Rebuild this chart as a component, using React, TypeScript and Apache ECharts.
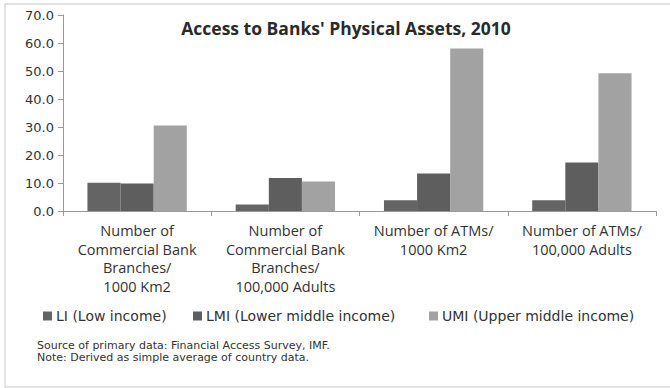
import React, { useEffect, useRef } from "react";
import * as echarts from "echarts";

const categories = [
  "Number of\nCommercial Bank\nBranches/\n1000 Km2",
  "Number of\nCommercial Bank\nBranches/\n100,000 Adults",
  "Number of ATMs/\n1000 Km2",
  "Number of ATMs/\n100,000 Adults",
];
const seriesNames = ["LI (Low income)", "LMI (Lower middle income)", "UMI (Upper middle income)"];
const liValues = [10.1, 2.3, 3.8, 3.8];
const lmiValues = [9.8, 11.8, 13.4, 17.3];
const umiValues = [30.5, 10.5, 58.0, 49.2];
const colors = ["#646464", "#5e5e5e", "#a2a2a2"];
const footnotes = [
  "Source of primary data: Financial Access Survey, IMF.",
  "Note: Derived as simple average of country data.",
];
const legendLefts = [43, 193, 429];

export default function App() {
  const ref = useRef<HTMLDivElement>(null);
  useEffect(() => {
    if (!ref.current) return;
    const chart = echarts.init(ref.current, undefined, { renderer: "svg" });
    const values = [liValues, lmiValues, umiValues];
    chart.setOption({
      animation: false,
      backgroundColor: "#ffffff",
      title: {
        text: "Access to Banks' Physical Assets, 2010",
        left: 341,
        top: 14,
        textAlign: "center",
        textStyle: { fontFamily: "Open Sans", fontWeight: "bold", fontSize: 17.5, color: "#2a2a2a" },
      },
      legend: seriesNames.map((name, i) => ({
        data: [name],
        left: legendLefts[i],
        top: 309,
        padding: 0,
        itemWidth: 9,
        itemHeight: 9,
        itemGap: 0,
        icon: "rect",
        textStyle: { fontFamily: "DejaVu Sans", fontSize: 14, color: "#333", padding: [0, 0, 0, -1] },
      })),
      grid: { left: 63, right: 14, top: 15, bottom: 177, containLabel: false },
      xAxis: {
        type: "category",
        data: categories,
        axisLine: { lineStyle: { color: "#999" } },
        axisTick: { show: true, lineStyle: { color: "#999" }, length: 5 },
        axisLabel: {
          interval: 0,
          fontFamily: "Open Sans",
          fontSize: 14.5,
          lineHeight: 18.7,
          color: "#333",
          margin: 10,
        },
      },
      yAxis: {
        type: "value",
        min: 0,
        max: 70,
        interval: 10,
        axisLine: { show: true, lineStyle: { color: "#999" } },
        axisTick: { show: true, lineStyle: { color: "#999" }, length: 5 },
        splitLine: { show: false },
        axisLabel: {
          formatter: (v: number) => v.toFixed(1),
          fontFamily: "DejaVu Sans",
          fontSize: 13,
          color: "#333",
          margin: 9,
        },
      },
      series: seriesNames.map((name, i) => ({
        name,
        type: "bar",
        data: values[i],
        barGap: "0%",
        barCategoryGap: "33%",
        itemStyle: { color: colors[i] },
      })),
      graphic: [
        {
          type: "rect",
          shape: { x: 5, y: 4, width: 680, height: 383 },
          style: { fill: "none", stroke: "#d9d9d9", lineWidth: 1.5 },
          silent: true,
        },
        ...footnotes.map((t, i) => ({
          type: "text",
          left: 37,
          top: 340 + i * 11.5,
          style: { text: t, fontFamily: "DejaVu Sans", fontSize: 11, fill: "#333" },
        })),
      ],
    });
    return () => chart.dispose();
  }, []);
  return <div ref={ref} style={{ position: "fixed", left: 0, top: 0, width: 670, height: 388 }} />;
}
